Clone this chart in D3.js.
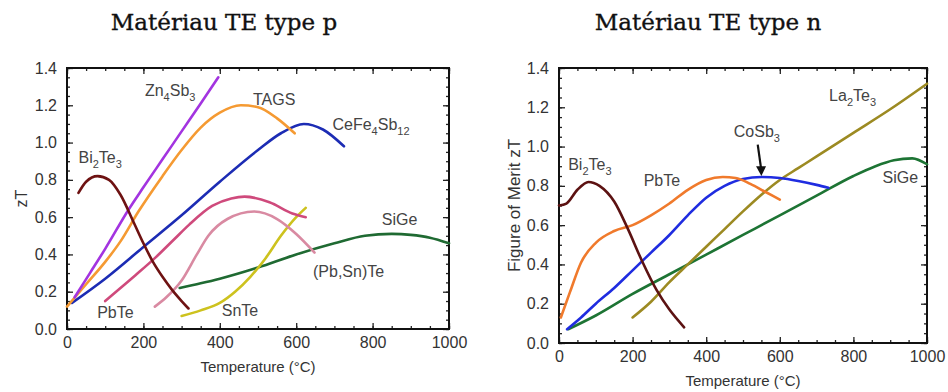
<!DOCTYPE html>
<html>
<head>
<meta charset="utf-8">
<script src="https://d3js.org/d3.v7.min.js"></script>
<style>
body { margin: 0; background: #fff; }
svg { font-family: "Liberation Sans", Arial, sans-serif; }
</style>
</head>
<body>
<script>
// ticks shared by both panels
var xTicks = [0, 200, 400, 600, 800, 1000];
var yTicks = [0, 0.2, 0.4, 0.6, 0.8, 1.0, 1.2, 1.4];

// type p materials, [temperature (°C), zT]
var pBi2Te3 = [[30,0.73],[50,0.79],[80,0.82],[110,0.80],[140,0.72],[175,0.57],[200,0.46],[225,0.36],[250,0.28],[275,0.21],[300,0.15],[318,0.11]];
var pZn4Sb3 = [[20,0.17],[60,0.30],[100,0.43],[161,0.64],[200,0.76],[250,0.91],[300,1.06],[350,1.21],[396,1.35]];
var pTAGS = [[0,0.12],[50,0.24],[100,0.36],[140,0.47],[187,0.63],[250,0.82],[300,0.96],[350,1.08],[400,1.16],[455,1.20],[500,1.19],[550,1.13],[596,1.05]];
var pCeFe4Sb12 = [[13,0.14],[100,0.27],[200,0.44],[300,0.61],[400,0.79],[500,0.96],[560,1.05],[620,1.10],[670,1.07],[725,0.98]];
var pPbTe = [[100,0.15],[140,0.22],[180,0.29],[230,0.38],[280,0.48],[320,0.56],[380,0.66],[430,0.70],[465,0.71],[530,0.68],[590,0.62],[625,0.60]];
var pPbSnTe = [[230,0.12],[260,0.17],[300,0.26],[340,0.40],[370,0.50],[420,0.59],[490,0.63],[550,0.59],[600,0.51],[648,0.41]];
var pSnTe = [[300,0.07],[350,0.10],[400,0.14],[440,0.20],[480,0.28],[520,0.38],[560,0.50],[600,0.60],[625,0.65]];
var pSiGe = [[295,0.22],[350,0.245],[400,0.27],[500,0.33],[600,0.40],[700,0.46],[780,0.50],[850,0.51],[900,0.505],[950,0.49],[1000,0.46]];

// type n materials
var nBi2Te3 = [[0,0.70],[20,0.71],[50,0.78],[80,0.82],[110,0.80],[150,0.72],[185,0.59],[225,0.42],[265,0.27],[300,0.17],[340,0.08]];
var nPbTe = [[5,0.13],[30,0.26],[60,0.41],[100,0.51],[150,0.57],[200,0.60],[250,0.65],[300,0.71],[350,0.78],[400,0.83],[445,0.845],[480,0.84],[520,0.81],[560,0.77],[600,0.73]];
var nCoSb3 = [[22,0.07],[60,0.13],[100,0.20],[150,0.28],[200,0.37],[250,0.46],[300,0.55],[350,0.65],[400,0.74],[450,0.80],[500,0.835],[550,0.845],[600,0.84],[650,0.825],[700,0.805],[732,0.79]];
var nLa2Te3 = [[200,0.13],[250,0.21],[300,0.31],[350,0.40],[400,0.49],[450,0.58],[500,0.67],[550,0.755],[600,0.83],[650,0.89],[700,0.95],[800,1.07],[900,1.19],[1000,1.32]];
var nSiGe = [[25,0.07],[100,0.14],[200,0.25],[300,0.35],[400,0.45],[500,0.55],[600,0.65],[700,0.75],[800,0.85],[860,0.90],[910,0.93],[960,0.94],[1000,0.91]];

var svg = d3.select("body").append("svg")
  .attr("width", 948)
  .attr("height", 392);

function drawPanel(p) {
  var g = svg.append("g");
  var x = d3.scaleLinear().domain([0, 1000]).range([p.left, p.right]);
  var y = d3.scaleLinear().domain([0, 1.4]).range([p.bottom, p.top]);

  // minor ticks on all four sides, pointing in
  var xMinor = d3.range(0, 1001, 50), yMinor = d3.range(0, 1.401, 0.05);
  g.append("g").attr("transform", "translate(0," + p.bottom + ")")
    .call(d3.axisBottom(x).tickValues(xMinor).tickSize(-3).tickFormat(""));
  g.append("g").attr("transform", "translate(0," + p.top + ")")
    .call(d3.axisTop(x).tickValues(xMinor).tickSize(-3).tickFormat(""));
  g.append("g").attr("transform", "translate(" + p.left + ",0)")
    .call(d3.axisLeft(y).tickValues(yMinor).tickSize(-3).tickFormat(""));
  g.append("g").attr("transform", "translate(" + p.right + ",0)")
    .call(d3.axisRight(y).tickValues(yMinor).tickSize(-3).tickFormat(""));

  // major ticks with labels
  g.append("g").attr("transform", "translate(0," + p.bottom + ")")
    .call(d3.axisBottom(x).tickValues(xTicks).tickSize(-6).tickPadding(8).tickFormat(d3.format("d")));
  g.append("g").attr("transform", "translate(" + p.left + ",0)")
    .call(d3.axisLeft(y).tickValues(yTicks).tickSize(-6).tickPadding(10).tickFormat(d3.format(".1f")));
  g.append("g").attr("transform", "translate(0," + p.top + ")")
    .call(d3.axisTop(x).tickValues(xTicks).tickSize(-6).tickFormat(""));
  g.append("g").attr("transform", "translate(" + p.right + ",0)")
    .call(d3.axisRight(y).tickValues(yTicks).tickSize(-6).tickFormat(""));

  g.selectAll(".domain").remove();
  g.selectAll(".tick line").attr("stroke", "#222").attr("stroke-width", 1.3);
  g.selectAll(".tick text").attr("font-size", 16).attr("fill", "#333")
    .attr("font-family", "Liberation Sans, Arial, sans-serif");

  g.append("rect")
    .attr("x", p.left).attr("y", p.top)
    .attr("width", p.right - p.left).attr("height", p.bottom - p.top)
    .attr("fill", "none").attr("stroke", "#111").attr("stroke-width", 2);

  var line = d3.line()
    .x(function(d) { return x(d[0]); })
    .y(function(d) { return y(d[1]); })
    .curve(d3.curveMonotoneX);

  p.series.forEach(function(s) {
    g.append("path")
      .attr("d", line(s.data))
      .attr("fill", "none")
      .attr("stroke", s.color)
      .attr("stroke-width", 2.6)
      .attr("stroke-linecap", "round");
  });

  // curve labels, odd parts are subscripts
  p.labels.forEach(function(l) {
    var t = g.append("text")
      .attr("x", x(l.at[0])).attr("y", y(l.at[1]))
      .attr("font-size", 16).attr("fill", "#444");
    l.parts.forEach(function(part, i) {
      var sub = i % 2 == 1;
      t.append("tspan").text(part)
        .attr("font-size", sub ? 11 : 16)
        .attr("dy", sub ? 5 : (i > 0 ? -5 : 0));
    });
  });

  // axis titles
  g.append("text")
    .attr("x", (p.left + p.right) / 2).attr("y", p.xTitleY)
    .attr("text-anchor", "middle").attr("font-size", 15).attr("fill", "#333")
    .text("Temperature (°C)");
  g.append("text")
    .attr("transform", "translate(" + p.yTitleX + "," + (p.top + p.bottom) / 2 + ") rotate(-90)")
    .attr("text-anchor", "middle").attr("dy", "0.35em")
    .attr("font-size", p.yTitleSize).attr("fill", "#333")
    .text(p.yTitle);

  svg.append("text")
    .attr("x", p.titleX).attr("y", 30)
    .attr("text-anchor", "middle")
    .attr("font-family", "DejaVu Serif, serif")
    .attr("font-size", 23).attr("fill", "#111")
    .attr("stroke", "#111").attr("stroke-width", 0.35)
    .text(p.title);

  return { x: x, y: y, g: g };
}

drawPanel({
  left: 67, right: 449, top: 68, bottom: 329,
  xTitleY: 372, yTitleX: 21, yTitle: "zT", yTitleSize: 16,
  title: "Matériau TE type p", titleX: 224,
  series: [
    { data: pSiGe, color: "#1f6a32" },
    { data: pSnTe, color: "#cdc21e" },
    { data: pPbSnTe, color: "#d98aa2" },
    { data: pPbTe, color: "#cf4a7c" },
    { data: pCeFe4Sb12, color: "#1c2cb4" },
    { data: pTAGS, color: "#f59a32" },
    { data: pZn4Sb3, color: "#a334e0" },
    { data: pBi2Te3, color: "#6e1212" }
  ],
  labels: [
    { parts: ["Zn", "4", "Sb", "3"], at: [204, 1.25] },
    { parts: ["TAGS"], at: [487, 1.20] },
    { parts: ["CeFe", "4", "Sb", "12"], at: [695, 1.065] },
    { parts: ["Bi", "2", "Te", "3"], at: [30, 0.89] },
    { parts: ["PbTe"], at: [79, 0.06] },
    { parts: ["SnTe"], at: [405, 0.068] },
    { parts: ["(Pb,Sn)Te"], at: [644, 0.28] },
    { parts: ["SiGe"], at: [824, 0.556] }
  ]
});

var right = drawPanel({
  left: 559, right: 927, top: 68, bottom: 343,
  xTitleY: 386, yTitleX: 514, yTitle: "Figure of Merit zT", yTitleSize: 17,
  title: "Matériau TE type n", titleX: 708,
  series: [
    { data: nSiGe, color: "#1d7434" },
    { data: nLa2Te3, color: "#9c8a22" },
    { data: nCoSb3, color: "#1f2ce0" },
    { data: nPbTe, color: "#f07a2c" },
    { data: nBi2Te3, color: "#5c1212" }
  ],
  labels: [
    { parts: ["Bi", "2", "Te", "3"], at: [25, 0.88] },
    { parts: ["PbTe"], at: [230, 0.80] },
    { parts: ["CoSb", "3"], at: [475, 1.05] },
    { parts: ["La", "2", "Te", "3"], at: [734, 1.23] },
    { parts: ["SiGe"], at: [879, 0.815] }
  ]
});

// arrow pointing at the CoSb3 maximum
var ax = right.x, ay = right.y;
right.g.append("line")
  .attr("x1", ax(540)).attr("y1", ay(1.01))
  .attr("x2", ax(549)).attr("y2", ay(0.89))
  .attr("stroke", "#111").attr("stroke-width", 2.2);
right.g.append("path")
  .attr("d", d3.line()([[ax(549) - 5, ay(0.90)], [ax(549) + 5, ay(0.90)], [ax(550), ay(0.85)]]) + "Z")
  .attr("fill", "#111");
</script>
</body>
</html>
